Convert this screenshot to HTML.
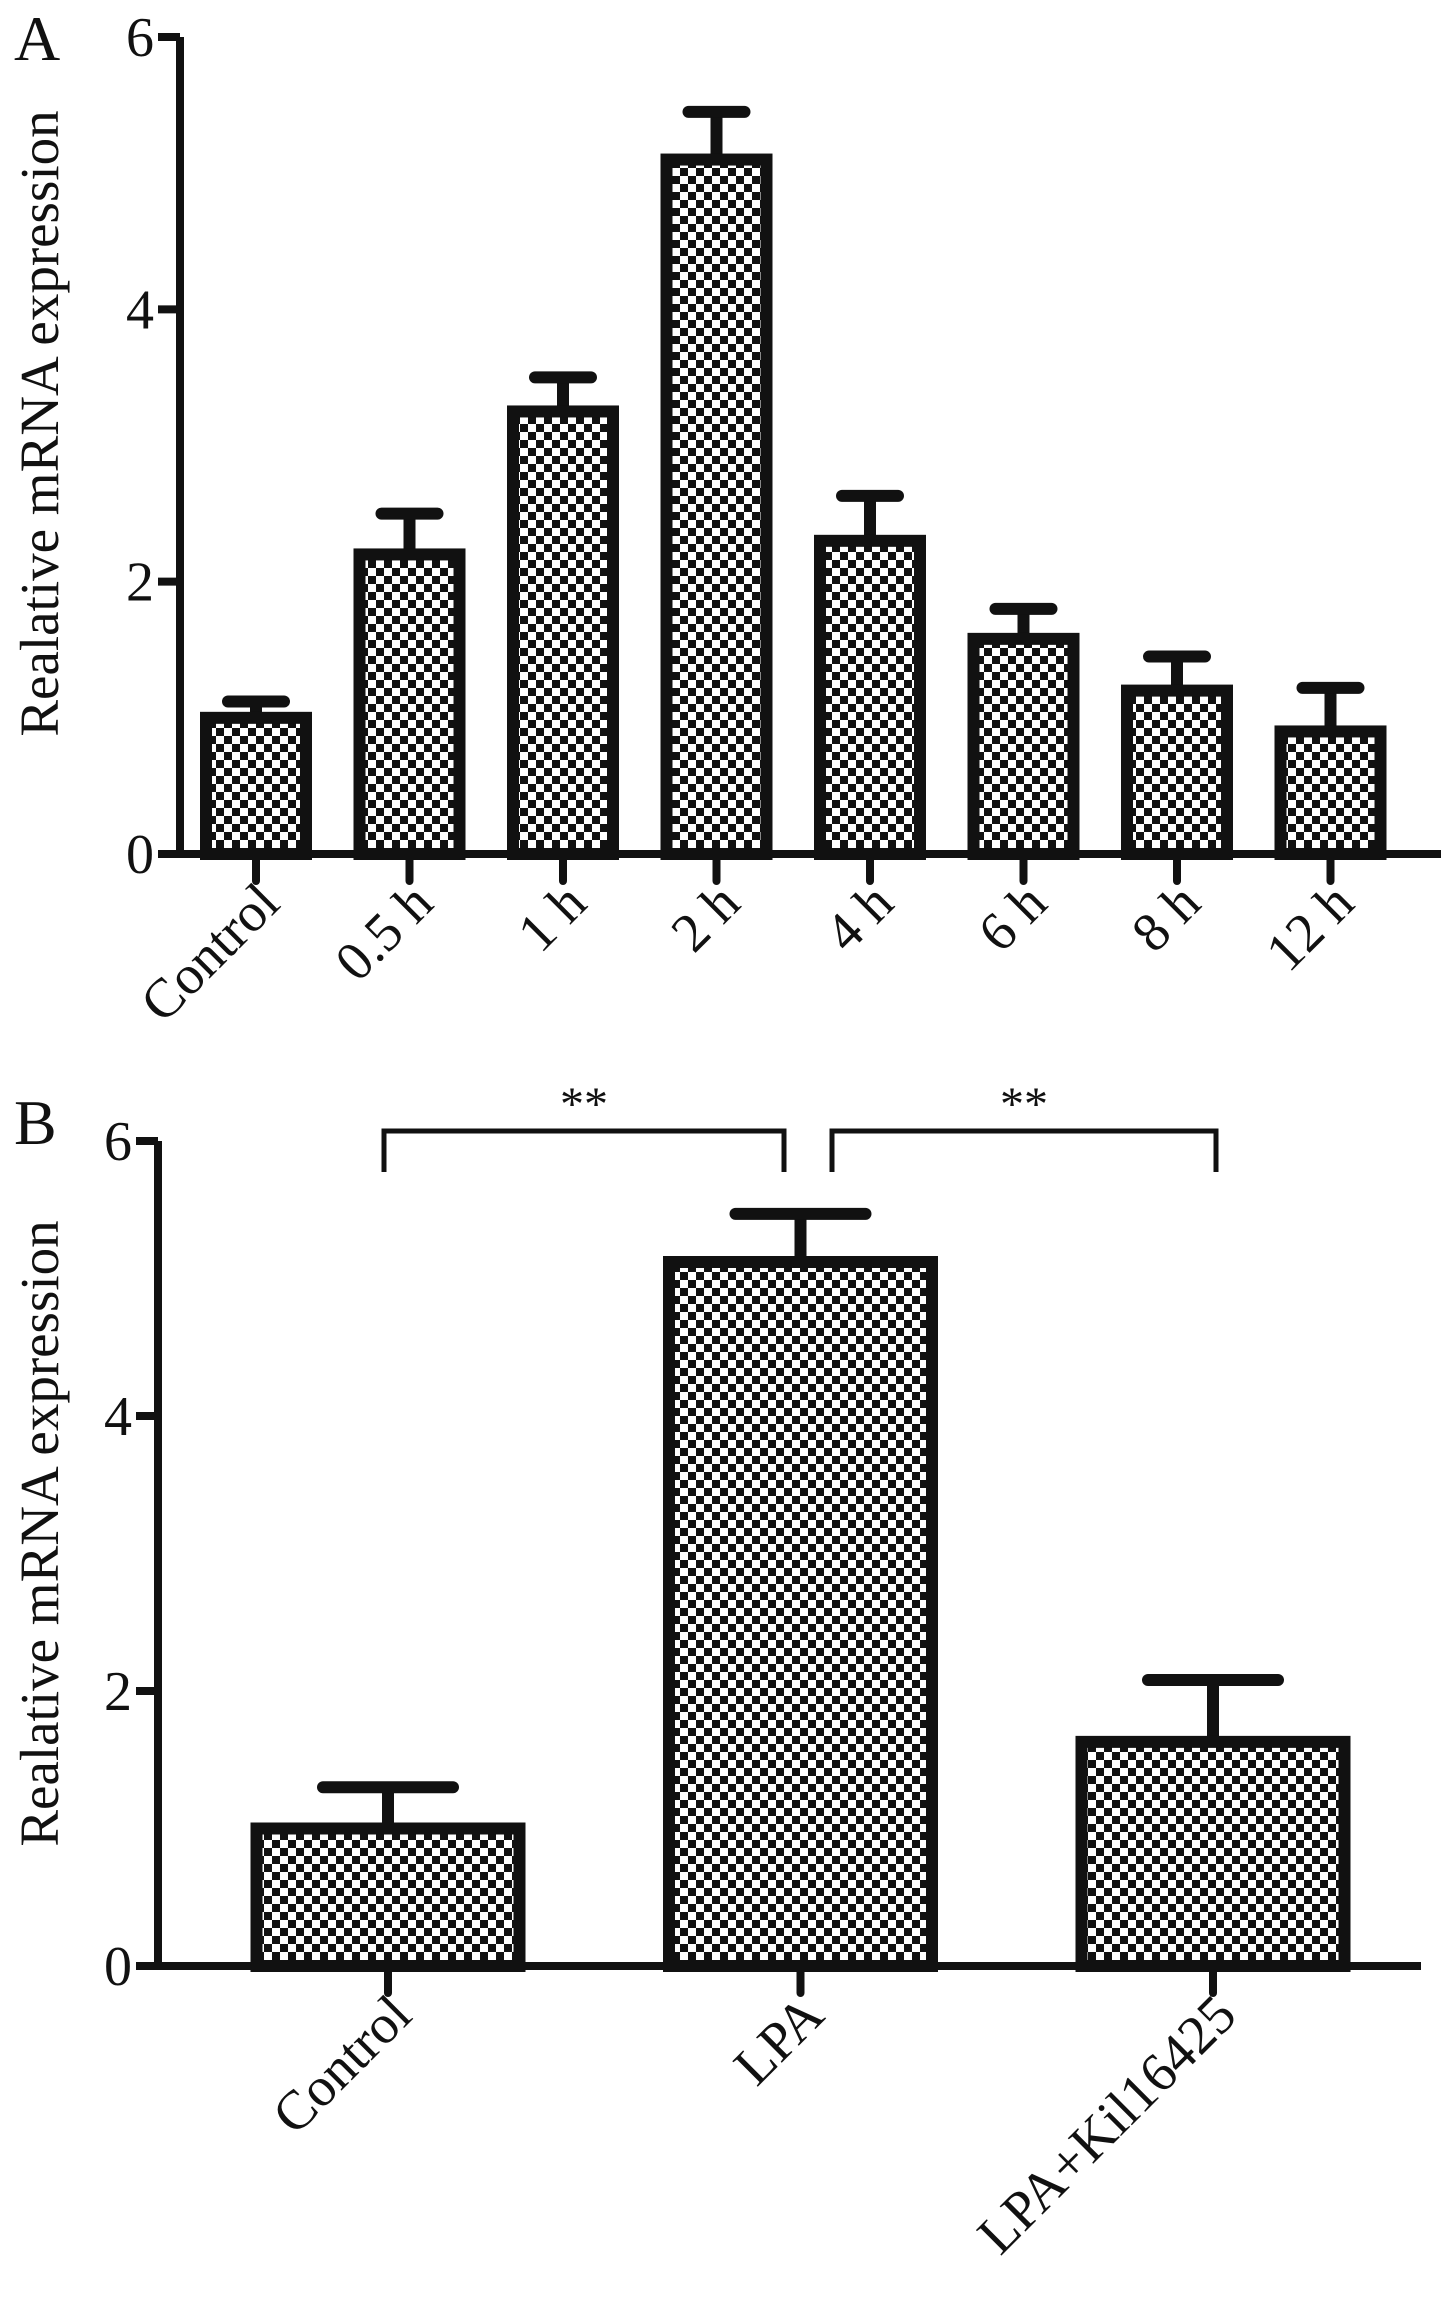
<!DOCTYPE html>
<html><head><meta charset="utf-8"><style>
html,body{margin:0;padding:0;background:#fff}
svg{display:block}
text{font-family:"Liberation Serif",serif;fill:#111}
</style></head><body>
<svg id="chart" width="1441" height="2301" viewBox="0 0 1441 2301">
<defs>
<pattern id="chk" width="16" height="16" patternUnits="userSpaceOnUse">
<rect width="16" height="16" fill="#fff"/>
<rect width="8" height="8" fill="#111"/>
<rect x="8" y="8" width="8" height="8" fill="#111"/>
</pattern>
</defs>
<g id="panelA"></g>
<g id="panelB"></g>
</svg>
<script>
const catsA = ["Control","0.5 h","1 h","2 h","4 h","6 h","8 h","12 h"];
const valsA = [1.0,2.2,3.25,5.1,2.3,1.58,1.2,0.9];
const errA  = [0.12,0.3,0.25,0.35,0.33,0.22,0.25,0.32];
const catsB = ["Control","LPA","LPA+Kil16425"];
const valsB = [1.0,5.12,1.63];
const errB  = [0.3,0.35,0.45];
const ticksY = [0,2,4,6];

const NS="http://www.w3.org/2000/svg";
function mk(parent,tag,attrs,txt){const e=document.createElementNS(NS,tag);for(const k in attrs)e.setAttribute(k,attrs[k]);if(txt!==undefined)e.textContent=txt;parent.appendChild(e);return e;}

function panel(g,o){
  const y=v=>o.y0-(o.y0-o.y6)*v/6;
  const x=i=>o.x0+i*o.step;
  const L=mk(g,'text',{x:14,y:o.letterY,'font-size':64},o.letter);
  
  
  const T=mk(g,'text',{x:0,y:0,'font-size':55,'text-anchor':'middle',transform:`translate(${o.titleX},${(o.y0+o.y6)/2+o.titleDy}) rotate(-90)`},'Realative mRNA expression');
  
  
  o.vals.forEach((v,i)=>{
    const cx=x(i), hw=o.bw/2, top=y(v), et=y(v+o.err[i]);
    const eb=mk(g,'line',{x1:cx,y1:top,x2:cx,y2:et,stroke:'#111','stroke-width':12});
    
    
    const cap=mk(g,'line',{x1:cx-o.cap,y1:et,x2:cx+o.cap,y2:et,stroke:'#111','stroke-width':12,'stroke-linecap':'round'});
    
    
    const r=mk(g,'rect',{x:cx-hw+6,y:top,width:o.bw-12,height:o.y0-top,fill:'url(#chk)',stroke:'#111','stroke-width':12});
    
    
    const tk=mk(g,'line',{x1:cx,y1:o.y0,x2:cx,y2:o.y0+27,stroke:'#111','stroke-width':8,'stroke-linecap':'round'});
    
    
    const lb=mk(g,'text',{x:0,y:0,'font-size':55,'text-anchor':'end',transform:`translate(${cx+26},${o.y0+52}) rotate(-45)`},o.cats[i]);
    
    
  });
  const ya=mk(g,'line',{x1:o.ax,y1:o.y6,x2:o.ax,y2:o.y0,stroke:'#111','stroke-width':8});
  
  
  const xa=mk(g,'line',{x1:o.ax-22,y1:o.y0,x2:o.xend,y2:o.y0,stroke:'#111','stroke-width':8});
  
  
  ticksY.forEach(t=>{
    const tl=mk(g,'line',{x1:o.ax-22,y1:y(t),x2:o.ax,y2:y(t),stroke:'#111','stroke-width':8});
    
    
    const tt=mk(g,'text',{x:o.ax-26,y:y(t)+19,'font-size':56,'text-anchor':'end'},String(t));
    
    
  });
}
panel(document.getElementById('panelA'),{letter:'A',letterY:60,titleX:58,titleDy:-22,x0:256,step:153.5,bw:112,cap:28,y0:854,y6:37,ax:180,xend:1441,cats:catsA,vals:valsA,err:errA});
panel(document.getElementById('panelB'),{letter:'B',letterY:1144,titleX:58,titleDy:-20,x0:388,step:412.5,bw:275,cap:65,y0:1966,y6:1141,ax:158,xend:1421,cats:catsB,vals:valsB,err:errB});
const gB=document.getElementById('panelB');
[[384,784],[832,1216]].forEach(([a,b])=>{
  const p=mk(gB,'path',{d:`M${a} 1172 V1131 H${b} V1172`,fill:'none',stroke:'#111','stroke-width':5});
  
  
  const s=mk(gB,'text',{x:(a+b)/2,y:1120,'font-size':48,'text-anchor':'middle'},'**');
  
  
});
</script>
</body></html>
